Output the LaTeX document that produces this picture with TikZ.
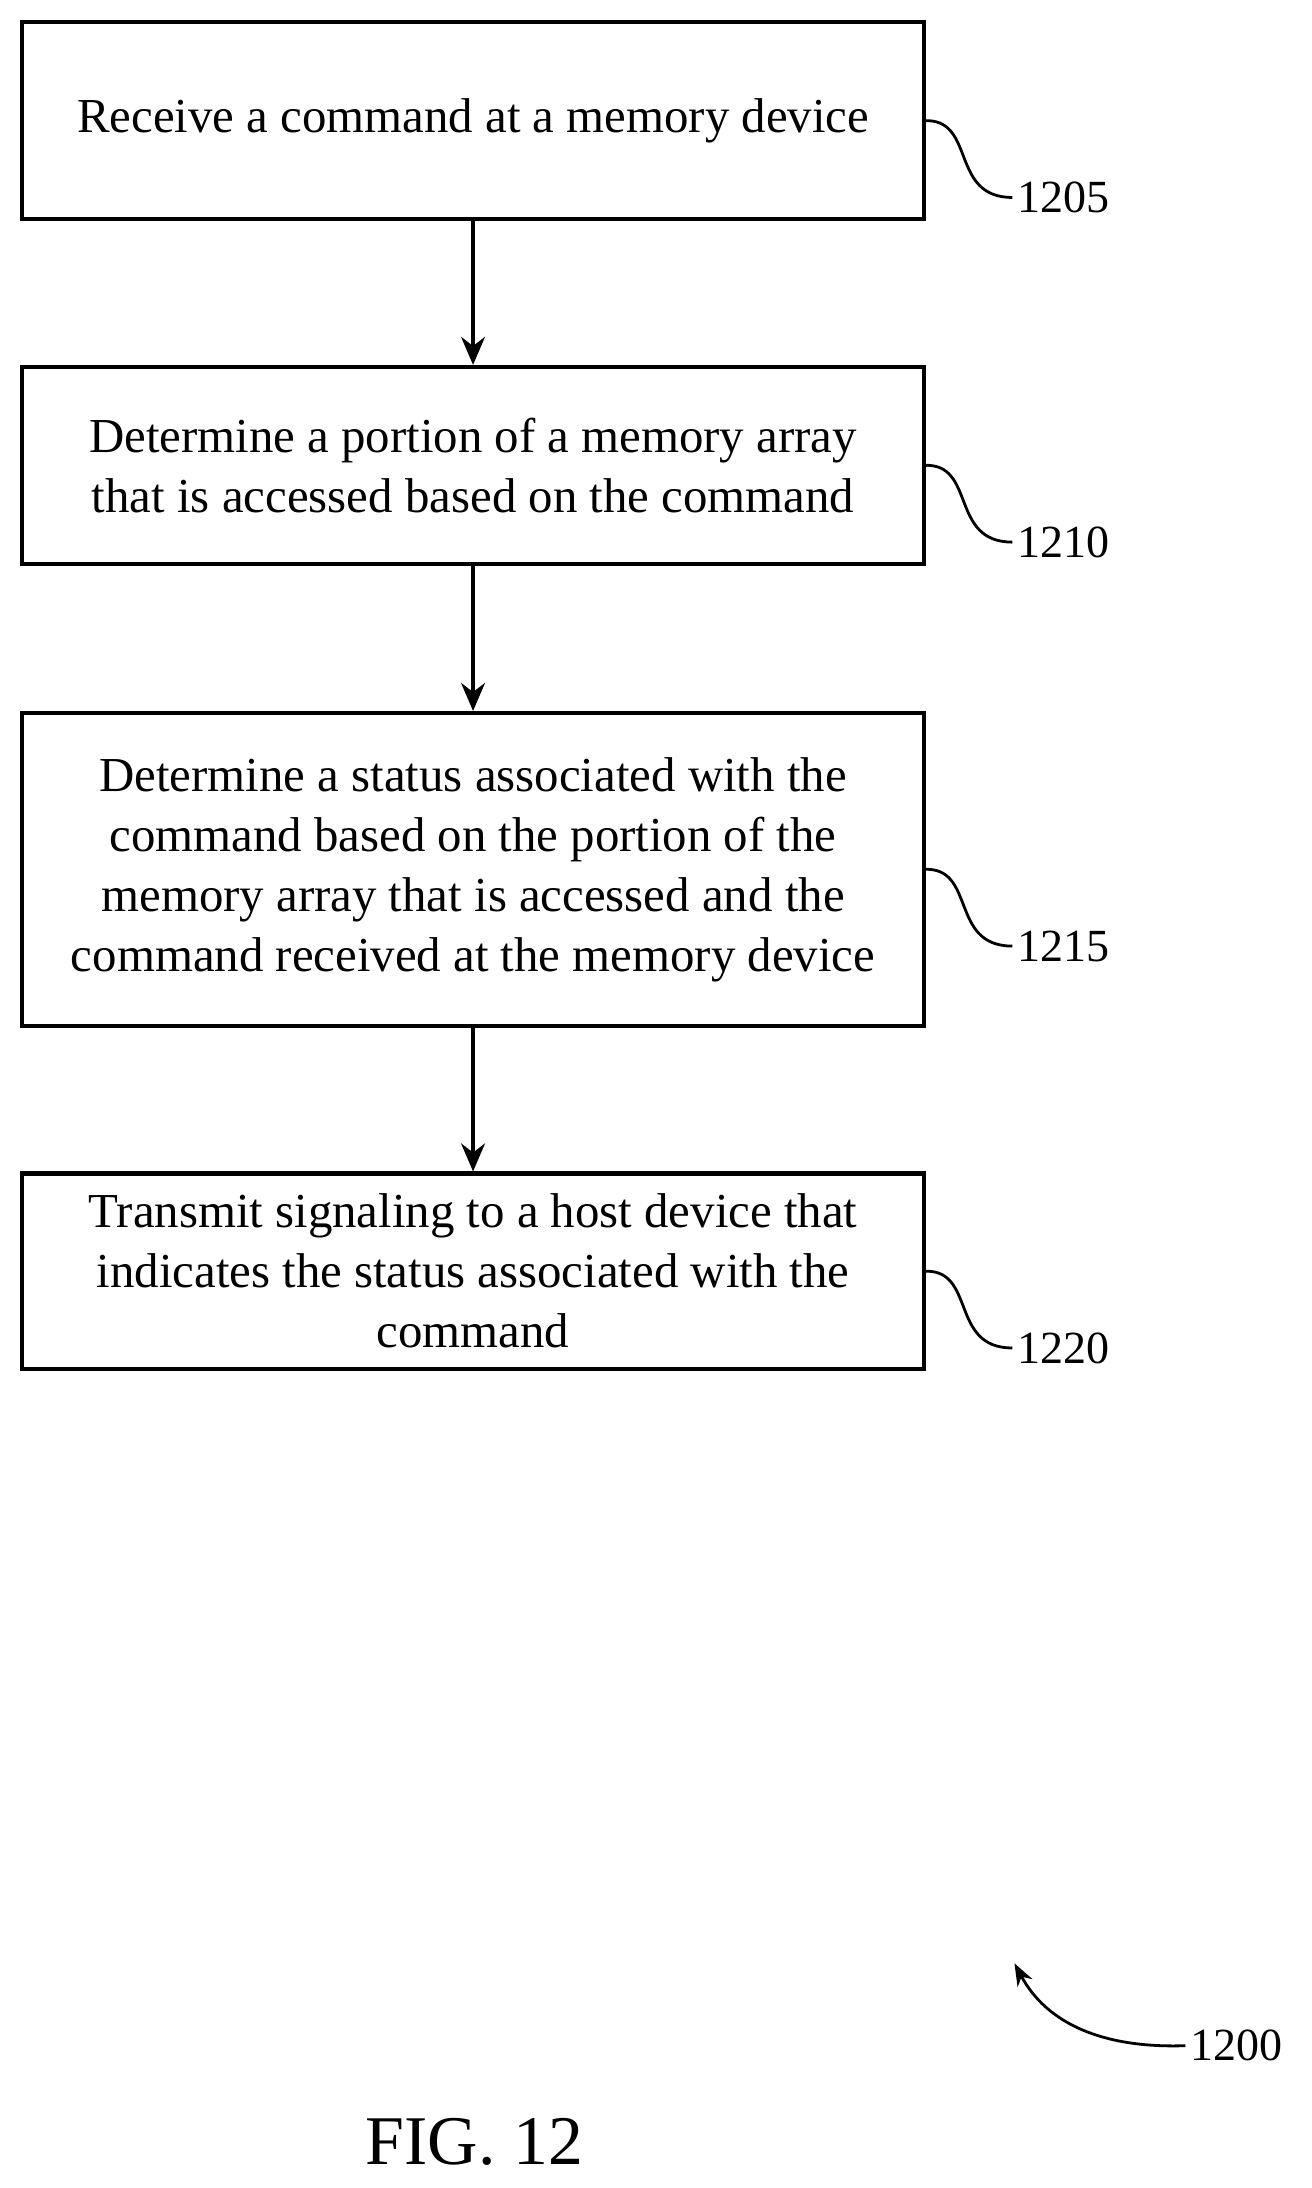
\documentclass[tikz,border=0pt]{standalone}
\usepackage{fontspec}
\setmainfont{Liberation Serif}
\usetikzlibrary{arrows.meta}
\begin{document}
\begin{tikzpicture}[x=1pt,y=-1pt,
  box/.style={draw,line width=3pt,inner sep=0pt,align=center,font=\fontsize{35}{43}\selectfont},
  arr/.style={line width=3pt,-{Stealth[length=20pt,width=17pt]}},
  lbl/.style={font=\fontsize{33}{36}\selectfont,anchor=center},
  sq/.style={line width=2pt}]
\useasboundingbox (0,0) rectangle (940,1568);
\node[box,minimum width=646pt,minimum height=141pt] (b1) at (339,86.5) {Receive a command at a memory device};
\node[box,minimum width=646pt,minimum height=141pt] (b2) at (339,333.5) {Determine a portion of a memory array\\that is accessed based on the command};
\node[box,minimum width=646pt,minimum height=224pt] (b3) at (339,623) {Determine a status associated with the\\command based on the portion of the\\memory array that is accessed and the\\command received at the memory device};
\node[box,minimum width=646pt,minimum height=140pt] (b4) at (339,911) {Transmit signaling to a host device that\\indicates the status associated with the\\command};
\draw[arr] (b1.south) -- (b2.north);
\draw[arr] (b2.south) -- (b3.north);
\draw[arr] (b3.south) -- (b4.north);
\foreach \n/\b/\y in {1205/b1/86.5,1210/b2/333.5,1215/b3/623,1220/b4/911}{
  \node[lbl] (l\n) at (762,\y+55) {\n};
  \coordinate (s\n) at (662,\y);
  \draw[sq] (s\n) .. controls (700,\y-2) and (680,\y+55) .. (l\n.west);
}
\node[lbl] (l1200) at (886,1466) {1200};
\coordinate (t1200) at (727,1407);
\draw[sq,-{Stealth[length=16pt,width=12pt]}] (l1200.west) .. controls (790,1468) and (750,1450) .. (t1200);
\node[font=\fontsize{50}{54}\selectfont] (fig) at (340,1535) {FIG. 12};
\end{tikzpicture}
\end{document}
